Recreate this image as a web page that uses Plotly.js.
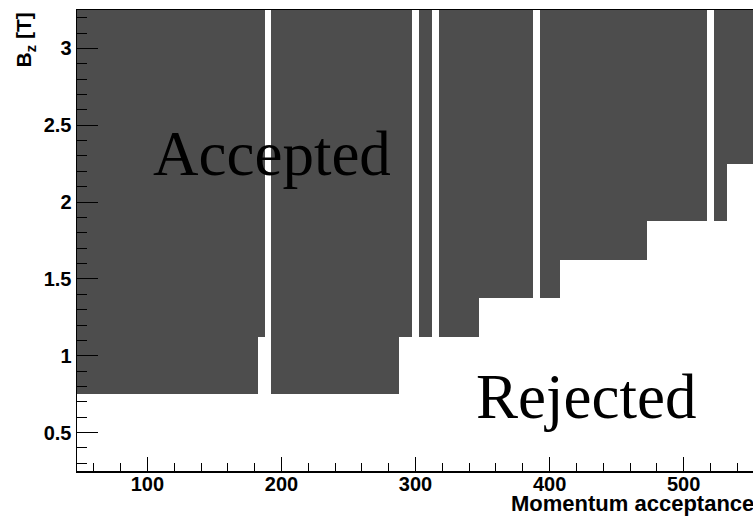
<!DOCTYPE html>
<html>
<head>
<meta charset="utf-8">
<script src="https://cdn.plot.ly/plotly-3.0.1.min.js"></script>
<style>
  html, body { margin: 0; padding: 0; background: #ffffff; overflow: hidden; }
  #chart { width: 753px; height: 516px; }
</style>
</head>
<body>
<div id="chart"></div>
<script>
// Momentum column boundaries (bin edges along x)
const momentumEdges = [47.5, 182.5, 187.5, 192.5, 287.5, 297.5, 302.5, 312.5, 317.5,
                       347.5, 387.5, 392.5, 407.5, 472.5, 517.5, 522.5, 532.5, 552.5];
// Lowest accepted field per momentum column (null = column with no accepted cells)
const minAcceptedBz = [0.75, 1.125, null, 0.75, 1.125, null, 1.125, null,
                       1.125, 1.375, null, 1.375, 1.625, 1.875, null, 1.875, 2.25];
// Field bin edges along y
const bzEdges = [0.25, 0.75, 1.125, 1.375, 1.625, 1.875, 2.25, 3.25];

const xTickVals = [100, 200, 300, 400, 500];
const yTickVals = [0.5, 1, 1.5, 2, 2.5, 3];
const yTickText = ['0.5', '1', '1.5', '2', '2.5', '3'];

// Acceptance map: 1 where the cell is accepted, null otherwise
const z = [];
for (let j = 0; j < bzEdges.length - 1; j++) {
  const row = [];
  for (let i = 0; i < minAcceptedBz.length; i++) {
    const b = minAcceptedBz[i];
    row.push(b !== null && bzEdges[j] >= b - 1e-9 ? 1 : null);
  }
  z.push(row);
}

const fill = '#4d4d4d';
const sansBold = 'Liberation Sans, Arial, sans-serif';
const labelFont = { family: sansBold, size: 20, color: '#000', weight: 'bold' };

const trace = {
  type: 'heatmap',
  x: momentumEdges,
  y: bzEdges,
  z: z,
  zmin: 0, zmax: 1,
  colorscale: [[0, fill], [1, fill]],
  showscale: false,
  hoverinfo: 'skip',
  zsmooth: false
};

const layout = {
  width: 753, height: 516,
  margin: { l: 77, r: 0, t: 10, b: 45, pad: 0 },
  paper_bgcolor: '#ffffff',
  plot_bgcolor: '#ffffff',
  showlegend: false,
  xaxis: {
    range: [47.5, 551.7],
    showgrid: false, zeroline: false,
    showline: true, linecolor: '#000', linewidth: 1.5, mirror: true,
    ticks: 'inside', ticklen: 14, tickwidth: 1, tickcolor: '#000',
    tickvals: xTickVals, ticktext: xTickVals.map(String),
    tickfont: labelFont,
    ticklabelstandoff: -6,
    minor: { dtick: 20, tick0: 0, ticks: 'inside', ticklen: 8, tickwidth: 1, tickcolor: '#000', showgrid: false },
    automargin: false,
    layer: 'above traces'
  },
  yaxis: {
    range: [0.25, 3.25],
    showgrid: false, zeroline: false,
    showline: true, linecolor: '#000', linewidth: 1.5, mirror: false,
    ticks: 'inside', ticklen: 21, tickwidth: 1, tickcolor: '#000',
    tickvals: yTickVals, ticktext: yTickText,
    tickfont: labelFont,
    minor: { dtick: 0.1, tick0: 0, ticks: 'inside', ticklen: 10, tickwidth: 1, tickcolor: '#000', showgrid: false },
    automargin: false,
    layer: 'above traces'
  },
  annotations: [
    {
      text: 'Accepted', xref: 'paper', yref: 'paper', x: 0.11, y: 0.6875,
      xanchor: 'left', yanchor: 'middle', showarrow: false,
      font: { family: 'Liberation Serif, Times New Roman, serif', size: 63, color: '#000' }
    },
    {
      text: 'Rejected', xref: 'paper', yref: 'paper', x: 0.588, y: 0.1607,
      xanchor: 'left', yanchor: 'middle', showarrow: false,
      font: { family: 'Liberation Serif, Times New Roman, serif', size: 63, color: '#000' }
    },
    {
      text: 'B<sub>z</sub> [T]', xref: 'paper', yref: 'paper', x: -0.077, y: 1,
      xanchor: 'center', yanchor: 'top', textangle: -90, showarrow: false,
      font: { family: sansBold, size: 21, color: '#000', weight: 'bold' }
    },
    {
      text: 'Momentum acceptance', xref: 'paper', yref: 'paper', x: 1.005, y: -0.103,
      xanchor: 'right', yanchor: 'bottom', showarrow: false,
      font: { family: sansBold, size: 22, color: '#000', weight: 'bold' }
    }
  ]
};

Plotly.newPlot('chart', [trace], layout, { staticPlot: true, displayModeBar: false });
</script>
</body>
</html>
